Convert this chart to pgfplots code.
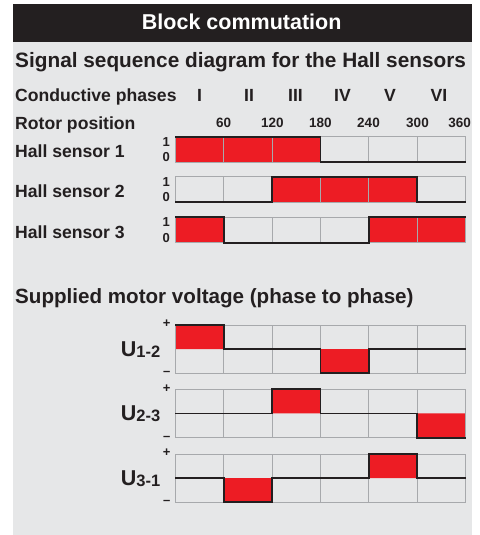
\documentclass[border=0pt]{standalone}
\usepackage{fontspec}
\setmainfont{Liberation Sans}
\usepackage{pgfplots}
\pgfplotsset{compat=1.18}
\definecolor{panelgray}{HTML}{E6E7E8}
\definecolor{hdr}{HTML}{231F20}
\definecolor{sigred}{HTML}{ED1C24}
\definecolor{gridgray}{HTML}{A7A9AC}
\definecolor{sig}{HTML}{231F20}
\pgfplotsset{
  sigbase/.style={scale only axis, width=290.4pt, xmin=0, xmax=360, anchor=south west, clip=false},
  sigframe/.style={sigbase, axis on top, xtick={60,120,180,240,300}, xticklabels={}, ytick=\empty,
    xmajorgrids, major grid style={gridgray, line width=0.9pt},
    axis line style={gridgray, line width=0.9pt}, major tick length=0pt},
  sigover/.style={sigbase, hide axis},
  fillst/.style={const plot, fill=sigred, draw=none},
  linest/.style={const plot, draw=sig, line width=1.8pt, line join=miter, mark=none},
}
\newcommand{\fs}[1]{\fontsize{#1}{#1}\selectfont\bfseries}
\begin{document}
\begin{tikzpicture}[x=1pt,y=1pt]
\fill[white] (0,0) rectangle (479,535);
\fill[panelgray] (13,0) rectangle (471.7,493.3);
\fill[hdr] (13,493.3) rectangle (471.7,531);
\node[anchor=base, text=white, inner sep=0, font=\fs{21.5}] at (241.7,505.7) {Block commutation};
\node[anchor=base west, inner sep=0, font=\fs{20.8}, text=hdr] at (15,467.5) {Signal sequence diagram for the Hall sensors};
\node[anchor=base west, inner sep=0, font=\fs{17.6}, text=hdr] at (15,433.5) {Conductive phases};
\foreach \xx/\lab in {199.5/I, 249/II, 295.5/III, 342.5/IV, 390/V, 439/VI}
  \node[anchor=base, inner sep=0, font=\fs{17.6}, text=hdr] at (\xx,433.5) {\lab};
\node[anchor=base west, inner sep=0, font=\fs{17.6}, text=hdr] at (15,405.7) {Rotor position};
\foreach \xx/\lab in {223.7/60, 272.3/120, 320.3/180, 368.5/240, 417.5/300, 459.7/360}
  \node[anchor=base, inner sep=0, font=\fs{13.5}, text=hdr] at (\xx,407.2) {\lab};
\node[anchor=base west, inner sep=0, font=\fs{17.6}, text=hdr] at (15,377) {Hall sensor 1};
\node[anchor=base west, inner sep=0, font=\fs{17.6}, text=hdr] at (15,337.7) {Hall sensor 2};
\node[anchor=base west, inner sep=0, font=\fs{17.6}, text=hdr] at (15,296.7) {Hall sensor 3};
\foreach \yt/\yb in {398.3/373, 358.3/333, 317.7/292.3}{
  \node[anchor=base, inner sep=0, font=\fs{13}, text=hdr] at (166.3,\yt-9.5) {1};
  \node[anchor=base, inner sep=0, font=\fs{13}, text=hdr] at (166.3,\yb) {0};
}
\node[anchor=base west, inner sep=0, font=\fs{20.6}, text=hdr] at (15,231.7) {Supplied motor voltage (phase to phase)};
\node[anchor=base west, inner sep=0, font=\fs{21.5}, text=hdr] at (120.7,178.3) {U\raisebox{-1pt}{\fs{16.5}1-2}};
\node[anchor=base west, inner sep=0, font=\fs{21.5}, text=hdr] at (120.7,114) {U\raisebox{-1pt}{\fs{16.5}2-3}};
\node[anchor=base west, inner sep=0, font=\fs{21.5}, text=hdr] at (120.7,49.3) {U\raisebox{-1pt}{\fs{16.5}3-1}};
\foreach \yt/\yb in {210/161.7, 145.7/97.3, 81/32.7}{
  \node[inner sep=0, font=\fs{13}, text=hdr] at (166.7,\yt+1) {+};
  \node[inner sep=0, font=\fs{13}, text=hdr] at (166.7,\yb-0.5) {–};
}
% Hall sensor 1
\begin{axis}[sigframe, at={(175.3pt,373pt)}, height=25.3pt, ymin=0, ymax=1]
\addplot[fillst] coordinates {(0,1) (180,0) (360,0)} \closedcycle;
\end{axis}
\begin{axis}[sigover, at={(175.3pt,373pt)}, height=25.3pt, ymin=0, ymax=1]
\addplot[linest] coordinates {(0,1) (180,0) (360,0)};
\end{axis}
% Hall sensor 2
\begin{axis}[sigframe, at={(175.3pt,333pt)}, height=25.3pt, ymin=0, ymax=1]
\addplot[fillst] coordinates {(0,0) (120,1) (300,0) (360,0)} \closedcycle;
\end{axis}
\begin{axis}[sigover, at={(175.3pt,333pt)}, height=25.3pt, ymin=0, ymax=1]
\addplot[linest] coordinates {(0,0) (120,1) (300,0) (360,0)};
\end{axis}
% Hall sensor 3
\begin{axis}[sigframe, at={(175.3pt,292.3pt)}, height=25.4pt, ymin=0, ymax=1]
\addplot[fillst] coordinates {(0,1) (60,0) (240,1) (360,1)} \closedcycle;
\end{axis}
\begin{axis}[sigover, at={(175.3pt,292.3pt)}, height=25.4pt, ymin=0, ymax=1]
\addplot[linest] coordinates {(0,1) (60,0) (240,1) (360,1)};
\end{axis}
% U1-2
\begin{axis}[sigframe, at={(175.3pt,161.7pt)}, height=48.3pt, ymin=-1, ymax=1]
\addplot[fillst] coordinates {(0,1) (60,0) (180,-1) (240,0) (360,0)} \closedcycle;
\end{axis}
\begin{axis}[sigover, at={(175.3pt,161.7pt)}, height=48.3pt, ymin=-1, ymax=1]
\addplot[linest] coordinates {(0,1) (60,0) (180,-1) (240,0) (360,0)};
\end{axis}
% U2-3
\begin{axis}[sigframe, at={(175.3pt,97.3pt)}, height=48.4pt, ymin=-1, ymax=1]
\addplot[fillst] coordinates {(0,0) (120,1) (180,0) (300,-1) (360,-1)} \closedcycle;
\end{axis}
\begin{axis}[sigover, at={(175.3pt,97.3pt)}, height=48.4pt, ymin=-1, ymax=1]
\addplot[linest] coordinates {(0,0) (120,1) (180,0) (300,-1) (360,-1)};
\end{axis}
% U3-1
\begin{axis}[sigframe, at={(175.3pt,32.7pt)}, height=48.3pt, ymin=-1, ymax=1]
\addplot[fillst] coordinates {(0,0) (60,-1) (120,0) (240,1) (300,0) (360,0)} \closedcycle;
\end{axis}
\begin{axis}[sigover, at={(175.3pt,32.7pt)}, height=48.3pt, ymin=-1, ymax=1]
\addplot[linest] coordinates {(0,0) (60,-1) (120,0) (240,1) (300,0) (360,0)};
\end{axis}
\end{tikzpicture}
\end{document}
